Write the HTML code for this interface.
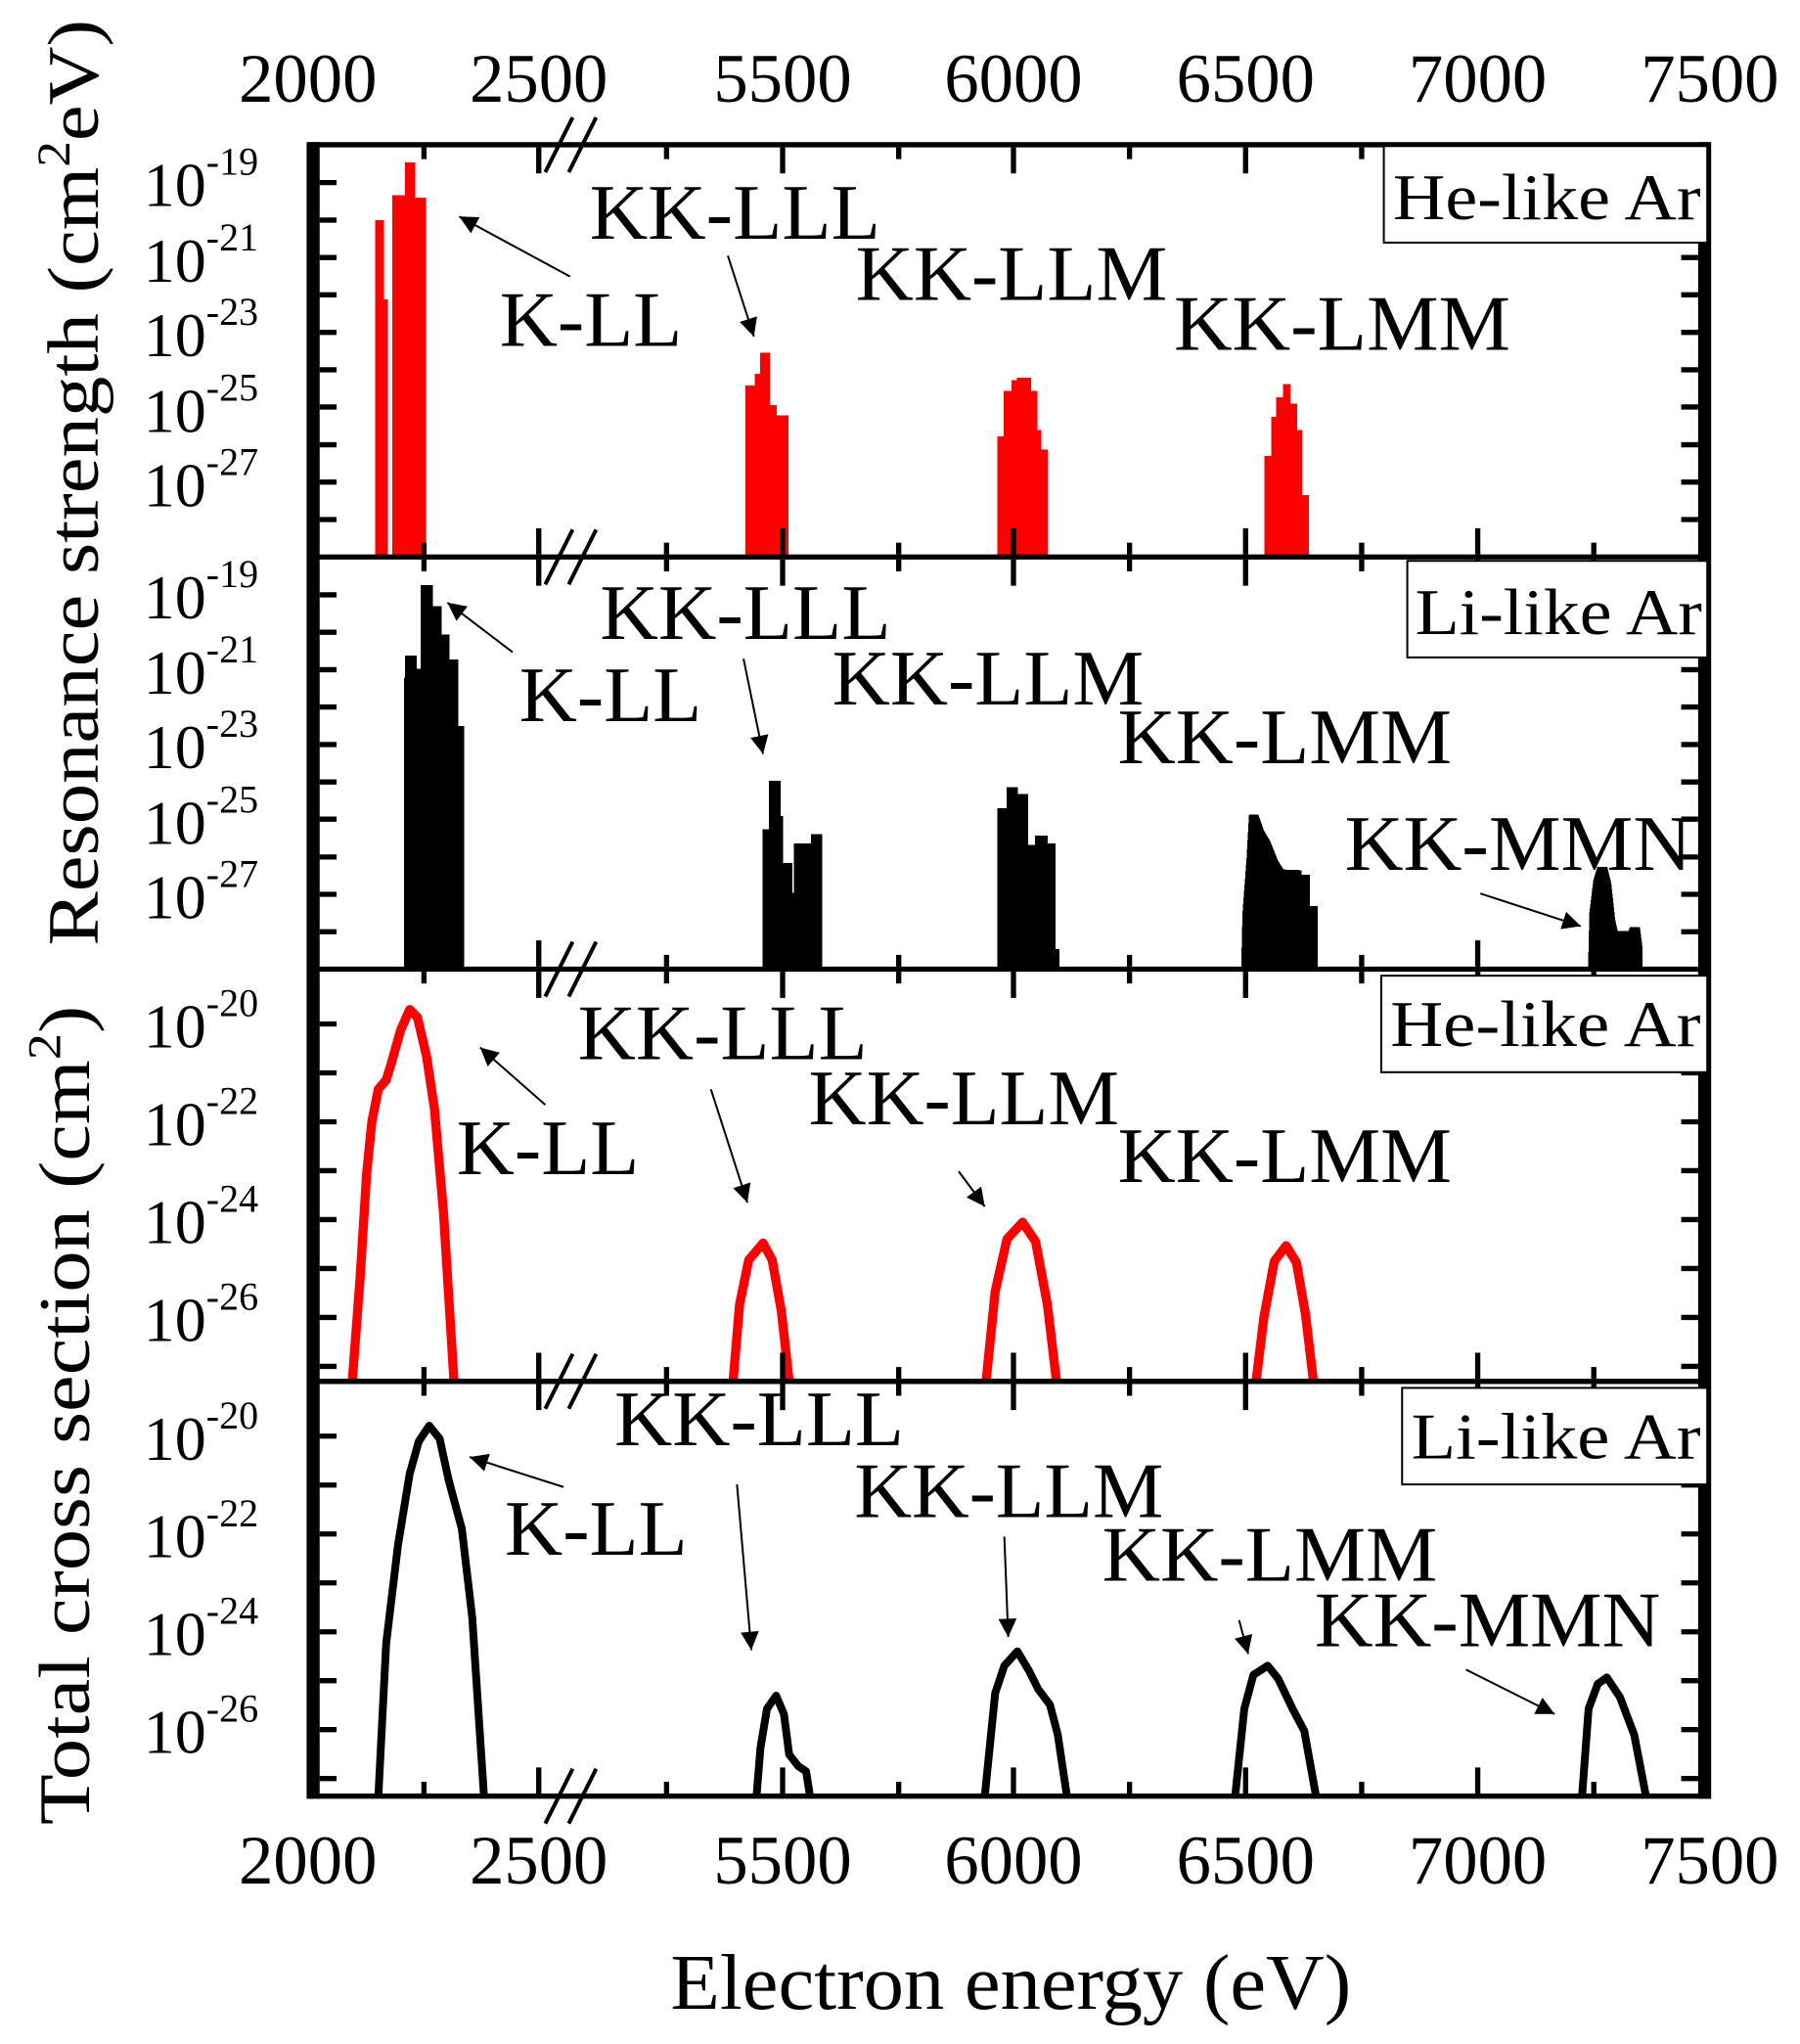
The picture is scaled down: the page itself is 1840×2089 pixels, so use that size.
<!DOCTYPE html>
<html><head><meta charset="utf-8"><style>html,body{margin:0;padding:0;background:#fff;}svg{display:block;}</style></head><body>
<svg width="1840" height="2089" viewBox="0 0 1380 1567" xmlns="http://www.w3.org/2000/svg" font-family="'Liberation Serif', serif">
<defs>
<marker id="ah" viewBox="0 0 10 10" refX="10" refY="5" markerWidth="22" markerHeight="14" markerUnits="userSpaceOnUse" orient="auto"><path d="M0,0 L10,5 L0,10 z" fill="#000"/></marker>
</defs>
<rect width="1380" height="1567" fill="#fff"/>

<g fill="#f00" stroke="#f00" stroke-width="0.8" shape-rendering="crispEdges">
<rect x="288" y="169" width="6" height="258"/><rect x="294" y="230" width="3" height="197"/>
<rect x="301" y="150" width="10" height="277"/><rect x="311" y="125" width="7" height="302"/><rect x="318" y="152" width="8" height="275"/>
<rect x="572" y="296" width="7" height="131"/><rect x="579" y="287" width="4" height="140"/><rect x="583" y="271" width="7" height="156"/><rect x="590" y="311" width="5" height="116"/><rect x="595" y="319" width="9" height="108"/>
<rect x="765" y="335" width="5" height="92"/><rect x="770" y="300" width="6" height="127"/><rect x="776" y="292" width="4" height="135"/><rect x="780" y="290" width="10" height="137"/><rect x="790" y="300" width="5" height="127"/><rect x="795" y="330" width="3" height="97"/><rect x="798" y="345" width="5" height="82"/>
<rect x="970" y="350" width="5" height="77"/><rect x="975" y="320" width="4" height="107"/><rect x="979" y="305" width="5" height="122"/><rect x="984" y="295" width="5" height="132"/><rect x="989" y="310" width="5" height="117"/><rect x="994" y="330" width="4" height="97"/><rect x="998" y="380" width="5" height="47"/>
</g>

<g fill="#000" stroke="#000" stroke-width="0.8" shape-rendering="crispEdges">
<rect x="310" y="520" width="2" height="223"/><rect x="311" y="503" width="8" height="240"/><rect x="319" y="513" width="4" height="230"/><rect x="323" y="449" width="8.5" height="294"/><rect x="331.5" y="465" width="6.5" height="278"/><rect x="338" y="487" width="6" height="256"/><rect x="344" y="506" width="7" height="237"/><rect x="351" y="557" width="4.5" height="186"/>
<rect x="585" y="636" width="5" height="107"/><rect x="590" y="599" width="8" height="144"/><rect x="598" y="626" width="2" height="117"/><rect x="600" y="662" width="7" height="81"/><rect x="607" y="685" width="2" height="58"/><rect x="609" y="647" width="13" height="96"/><rect x="622" y="640" width="8" height="103"/>
<rect x="765" y="620" width="7" height="123"/><rect x="772" y="604" width="8" height="139"/><rect x="780" y="609" width="8" height="134"/><rect x="788" y="648" width="6" height="95"/><rect x="794" y="641" width="9" height="102"/><rect x="803" y="647" width="6" height="96"/><rect x="809" y="728" width="3" height="15"/>
<polygon points="952,743 953,700 956,660 958,625 964.5,625 969,637.5 973.5,645 979.5,660 984,667 997.5,667.5 997.5,671 1004,671 1004,695 1010,695 1010,743"/>
<polygon points="1218,743 1219,700 1222,675 1225,665 1232,665 1235,677 1238,705 1240,714 1249,714 1250,711 1257,711 1259,727 1259,743"/>
</g>

<g fill="none" stroke="#f00" stroke-width="7" stroke-linejoin="round">
<polyline points="270,1059 276,980 281,900 285,860 290,835 296,828 300,815 307,790 314,774 320,780 327,810 333,850 340,930 348,1059"/>
<polyline points="562,1059 567,1000 574,966 585,953 592,966 599,1005 605,1059"/>
<polyline points="756,1059 763,990 772,950 784,937 794,952 803,1000 810,1059"/>
<polyline points="963,1059 969,1010 977,967 986,955 994,968 1001,1008 1007,1059"/>
</g>

<g fill="none" stroke="#000" stroke-width="6" stroke-linejoin="round">
<polyline points="290,1377 296,1260 305,1185 314,1130 321,1105 329,1093 337,1103 344,1135 354,1172 362,1240 371,1377"/>
<polyline points="580,1377 583,1340 588,1310 595,1300 601,1314 605,1345 612,1354 618,1358 621,1377"/>
<polyline points="755,1377 763,1298 770,1277 780,1266 789,1281 796,1295 805,1307 811,1330 818,1377"/>
<polyline points="947,1377 954,1310 961,1284 972,1277 980,1287 991,1310 1000,1327 1009,1377"/>
<polyline points="1213,1377 1218,1310 1225,1291 1232,1286 1242,1301 1253,1330 1262,1377"/>
</g>

<g stroke="#000" fill="none">
<line x1="236" y1="111" x2="1311" y2="111" stroke-width="4"/>
<line x1="236" y1="427" x2="1311" y2="427" stroke-width="4"/>
<line x1="236" y1="743" x2="1311" y2="743" stroke-width="4"/>
<line x1="236" y1="1059" x2="1311" y2="1059" stroke-width="4"/>
<line x1="236" y1="1377" x2="1311" y2="1377" stroke-width="4"/>
<line x1="240" y1="109" x2="240" y2="1379" stroke-width="10"/>
<line x1="1307" y1="109" x2="1307" y2="1379" stroke-width="10"/>
</g>

<g stroke="#000" stroke-width="4">
<path d="M413,113v20M600,113v20M777,113v20M955,113v20M1133,113v20M325,113v9M511,113v9M689,113v9M866,113v9M1044,113v9M1222,113v9"/>
<path d="M413,425v-20M600,425v-20M777,425v-20M955,425v-20M1133,425v-20M325,425v-9M511,425v-9M689,425v-9M866,425v-9M1044,425v-9M1222,425v-9"/>
<path d="M413,429v20M600,429v20M777,429v20M955,429v20M1133,429v20M325,429v9M511,429v9M689,429v9M866,429v9M1044,429v9M1222,429v9"/>
<path d="M413,741v-20M600,741v-20M777,741v-20M955,741v-20M1133,741v-20M325,741v-9M511,741v-9M689,741v-9M866,741v-9M1044,741v-9M1222,741v-9"/>
<path d="M413,745v20M600,745v20M777,745v20M955,745v20M1133,745v20M325,745v9M511,745v9M689,745v9M866,745v9M1044,745v9M1222,745v9"/>
<path d="M413,1057v-20M600,1057v-20M777,1057v-20M955,1057v-20M1133,1057v-20M325,1057v-9M511,1057v-9M689,1057v-9M866,1057v-9M1044,1057v-9M1222,1057v-9"/>
<path d="M413,1061v20M600,1061v20M777,1061v20M955,1061v20M1133,1061v20M325,1061v9M511,1061v9M689,1061v9M866,1061v9M1044,1061v9M1222,1061v9"/>
<path d="M413,1375v-20M600,1375v-20M777,1375v-20M955,1375v-20M1133,1375v-20M325,1375v-9M511,1375v-9M689,1375v-9M866,1375v-9M1044,1375v-9M1222,1375v-9"/>
</g>

<g stroke="#000" stroke-width="4">
<path d="M245,140h13M245,168.7h13M245,197.4h13M245,226h13M245,254.8h13M245,283.5h13M245,312h13M245,341h13M245,369.6h13M245,398.3h13"/>
<path d="M1302,140h-13M1302,168.7h-13M1302,197.4h-13M1302,226h-13M1302,254.8h-13M1302,283.5h-13M1302,312h-13M1302,341h-13M1302,369.6h-13M1302,398.3h-13"/>
<path d="M245,456h13M245,484.7h13M245,513.4h13M245,542h13M245,570.8h13M245,599.5h13M245,628h13M245,657h13M245,685.6h13M245,714.3h13"/>
<path d="M1302,456h-13M1302,484.7h-13M1302,513.4h-13M1302,542h-13M1302,570.8h-13M1302,599.5h-13M1302,628h-13M1302,657h-13M1302,685.6h-13M1302,714.3h-13"/>
<path d="M245,785h13M245,822.5h13M245,860h13M245,897.5h13M245,935h13M245,972.5h13M245,1010h13M245,1047.5h13"/>
<path d="M1302,785h-13M1302,822.5h-13M1302,860h-13M1302,897.5h-13M1302,935h-13M1302,972.5h-13M1302,1010h-13M1302,1047.5h-13"/>
<path d="M245,1101h13M245,1138.5h13M245,1176h13M245,1213.5h13M245,1251h13M245,1288.5h13M245,1326h13M245,1363.5h13"/>
<path d="M1302,1101h-13M1302,1138.5h-13M1302,1176h-13M1302,1213.5h-13M1302,1251h-13M1302,1288.5h-13M1302,1326h-13M1302,1363.5h-13"/>
</g>

<g stroke="#000" stroke-width="3">
<path d="M418,132L439,90M436,132L457,90"/>
<path d="M418,448L439,406M436,448L457,406"/>
<path d="M418,764L439,722M436,764L457,722"/>
<path d="M418,1080L439,1038M436,1080L457,1038"/>
<path d="M418,1398L439,1356M436,1398L457,1356"/>
</g>

<g font-size="53" text-anchor="middle" fill="#000">
<text x="236" y="78">2000</text><text x="413" y="78">2500</text><text x="600" y="78">5500</text><text x="777" y="78">6000</text><text x="955" y="78">6500</text><text x="1133" y="78">7000</text><text x="1311" y="78">7500</text>
<text x="236" y="1444">2000</text><text x="413" y="1444">2500</text><text x="600" y="1444">5500</text><text x="777" y="1444">6000</text><text x="955" y="1444">6500</text><text x="1133" y="1444">7000</text><text x="1311" y="1444">7500</text>
</g>

<g font-size="48" fill="#000">
<text x="110" y="158">10<tspan dy="-24" font-size="30">-19</tspan></text>
<text x="110" y="216">10<tspan dy="-24" font-size="30">-21</tspan></text>
<text x="110" y="273">10<tspan dy="-24" font-size="30">-23</tspan></text>
<text x="110" y="331">10<tspan dy="-24" font-size="30">-25</tspan></text>
<text x="110" y="388">10<tspan dy="-24" font-size="30">-27</tspan></text>
<text x="110" y="474">10<tspan dy="-24" font-size="30">-19</tspan></text>
<text x="110" y="532">10<tspan dy="-24" font-size="30">-21</tspan></text>
<text x="110" y="589">10<tspan dy="-24" font-size="30">-23</tspan></text>
<text x="110" y="647">10<tspan dy="-24" font-size="30">-25</tspan></text>
<text x="110" y="704">10<tspan dy="-24" font-size="30">-27</tspan></text>
<text x="110" y="803">10<tspan dy="-24" font-size="30">-20</tspan></text>
<text x="110" y="878">10<tspan dy="-24" font-size="30">-22</tspan></text>
<text x="110" y="953">10<tspan dy="-24" font-size="30">-24</tspan></text>
<text x="110" y="1028">10<tspan dy="-24" font-size="30">-26</tspan></text>
<text x="110" y="1119">10<tspan dy="-24" font-size="30">-20</tspan></text>
<text x="110" y="1194">10<tspan dy="-24" font-size="30">-22</tspan></text>
<text x="110" y="1269">10<tspan dy="-24" font-size="30">-24</tspan></text>
<text x="110" y="1344">10<tspan dy="-24" font-size="30">-26</tspan></text>
</g>

<text x="775" y="1540" font-size="60" text-anchor="middle" textLength="522" lengthAdjust="spacingAndGlyphs">Electron energy (eV)</text>
<text transform="translate(75,370) rotate(-90)" font-size="56" text-anchor="middle" textLength="710" lengthAdjust="spacingAndGlyphs">Resonance strength (cm<tspan dy="-22" font-size="36">2</tspan><tspan dy="22">eV)</tspan></text>
<text transform="translate(68,1085) rotate(-90)" font-size="56" text-anchor="middle" textLength="628" lengthAdjust="spacingAndGlyphs">Total cross section (cm<tspan dy="-22" font-size="36">2</tspan><tspan dy="22">)</tspan></text>

<g stroke="#000" stroke-width="1.5" fill="#fff">
<rect x="1061" y="112" width="248" height="74"/>
<rect x="1079" y="430" width="230" height="74"/>
<rect x="1059" y="748" width="250" height="74"/>
<rect x="1075" y="1064" width="234" height="74"/>
</g>
<g font-size="50" fill="#000">
<text x="1068" y="168" textLength="236" lengthAdjust="spacingAndGlyphs">He-like Ar</text>
<text x="1085" y="486" textLength="220" lengthAdjust="spacingAndGlyphs">Li-like Ar</text>
<text x="1066" y="802" textLength="238" lengthAdjust="spacingAndGlyphs">He-like Ar</text>
<text x="1082" y="1118" textLength="222" lengthAdjust="spacingAndGlyphs">Li-like Ar</text>
</g>

<g font-size="60" fill="#000">
<text x="383" y="265" textLength="140" lengthAdjust="spacingAndGlyphs">K-LL</text>
<text x="452" y="183" textLength="223" lengthAdjust="spacingAndGlyphs">KK-LLL</text>
<text x="656" y="230" textLength="239" lengthAdjust="spacingAndGlyphs">KK-LLM</text>
<text x="900" y="268" textLength="258" lengthAdjust="spacingAndGlyphs">KK-LMM</text>

<text x="398" y="553" textLength="140" lengthAdjust="spacingAndGlyphs">K-LL</text>
<text x="460" y="490" textLength="223" lengthAdjust="spacingAndGlyphs">KK-LLL</text>
<text x="638" y="540" textLength="239" lengthAdjust="spacingAndGlyphs">KK-LLM</text>
<text x="857" y="585" textLength="256" lengthAdjust="spacingAndGlyphs">KK-LMM</text>
<text x="1031" y="667" textLength="266" lengthAdjust="spacingAndGlyphs">KK-MMN</text>

<text x="350" y="900" textLength="140" lengthAdjust="spacingAndGlyphs">K-LL</text>
<text x="443" y="812" textLength="222" lengthAdjust="spacingAndGlyphs">KK-LLL</text>
<text x="620" y="862" textLength="238" lengthAdjust="spacingAndGlyphs">KK-LLM</text>
<text x="857" y="906" textLength="256" lengthAdjust="spacingAndGlyphs">KK-LMM</text>

<text x="387" y="1192" textLength="140" lengthAdjust="spacingAndGlyphs">K-LL</text>
<text x="471" y="1108" textLength="222" lengthAdjust="spacingAndGlyphs">KK-LLL</text>
<text x="655" y="1163" textLength="237" lengthAdjust="spacingAndGlyphs">KK-LLM</text>
<text x="845" y="1212" textLength="257" lengthAdjust="spacingAndGlyphs">KK-LMM</text>
<text x="1008" y="1262" textLength="265" lengthAdjust="spacingAndGlyphs">KK-MMN</text>
</g>

<g stroke="#000" stroke-width="1.5" marker-end="url(#ah)">
<line x1="437" y1="212" x2="352" y2="166"/>
<line x1="558" y1="196" x2="578" y2="258"/>
<line x1="393" y1="500" x2="343" y2="462"/>
<line x1="570" y1="505" x2="585" y2="578"/>
<line x1="1135" y1="685" x2="1212" y2="710"/>
<line x1="418" y1="847" x2="368" y2="803"/>
<line x1="545" y1="835" x2="573" y2="922"/>
<line x1="735" y1="898" x2="755" y2="925"/>
<line x1="432" y1="1140" x2="360" y2="1117"/>
<line x1="565" y1="1138" x2="576" y2="1265"/>
<line x1="770" y1="1178" x2="773" y2="1255"/>
<line x1="950" y1="1242" x2="957" y2="1268"/>
<line x1="1124" y1="1280" x2="1192" y2="1314"/>
</g>
</svg>
</body></html>
